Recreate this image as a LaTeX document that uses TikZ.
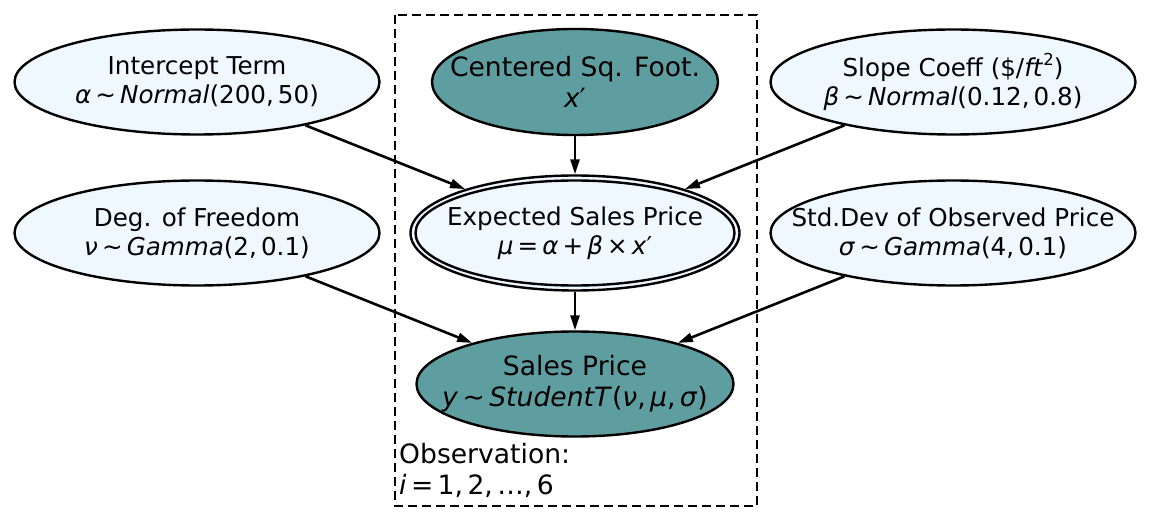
\documentclass[tikz,border=0pt]{standalone}
\usepackage{fontspec}
\setmainfont{DejaVu Sans}
\usetikzlibrary{shapes.geometric,arrows.meta}
\definecolor{lightfill}{HTML}{F0F8FF}
\definecolor{tealfill}{HTML}{5F9EA0}
\newcommand{\mi}[1]{\textit{#1}}
\begin{document}
\begin{tikzpicture}[x=1pt,y=-1pt,
  ell/.style={ellipse,draw=black,line width=2.4pt,inner sep=0pt},
  prior/.style={ell,fill=lightfill,minimum width=365pt,minimum height=105pt},
  obs/.style={ell,fill=tealfill},
  txt/.style={align=center,inner sep=0pt,font=\fontsize{24.6}{29}\selectfont},
  btxt/.style={align=center,inner sep=0pt,font=\fontsize{26.6}{31}\selectfont},
  edge/.style={line width=2.6pt,-{Triangle[length=15pt,width=9pt]}}
]
\useasboundingbox (0,0) rectangle (1151,521);
\fill[white] (0,0) rectangle (1151,521);
% plate
\draw[line width=2.4pt,dash pattern=on 9pt off 5pt] (395,15) rectangle (757,506);
\node[btxt,align=left,anchor=west] (platelbl) at (399,470) {Observation:\\\mi{i}\,=\,1,\,2,\,…,\,6};
% nodes
\node[prior] (icpt) at (197,82) {};
\node[txt] (icptt) at (197,82) {Intercept Term\\\mi{α}\,∼\,\mi{Normal}(200,\,50)};
\node[obs,minimum width=286pt,minimum height=106pt] (sqft) at (575,82) {};
\node[btxt] (sqftt) at (575,82) {Centered Sq. Foot.\\\mi{x}′};
\node[prior] (slope) at (953,82) {};
\node[txt] (slopet) at (953,82) {Slope Coeff (\$/\mi{ft}\raisebox{0.45em}{\fontsize{16.5}{16.5}\selectfont 2})\\\mi{β}\,∼\,\mi{Normal}(0.12,\,0.8)};
\node[prior] (nu) at (197,233) {};
\node[txt] (nut) at (197,233) {Deg. of Freedom\\\mi{ν}\,∼\,\mi{Gamma}(2,\,0.1)};
\node[ell,fill=lightfill,minimum width=329pt,minimum height=115pt] (mu) at (575,233) {};
\draw[line width=2.4pt] (mu.center) ellipse [x radius=159.5pt, y radius=52.5pt];
\node[txt] (mut) at (575,233) {Expected Sales Price\\\mi{μ}\,=\,\mi{α}\,+\,\mi{β}\,×\,\mi{x}′};
\node[prior] (sigma) at (953,233) {};
\node[txt] (sigmat) at (953,233) {Std.Dev of Observed Price\\\mi{σ}\,∼\,\mi{Gamma}(4,\,0.1)};
\node[obs,minimum width=317pt,minimum height=105pt] (y) at (575,384) {};
\node[btxt] (yt) at (575,384) {Sales Price\\\mi{y}\,∼\,\mi{StudentT}(\mi{ν},\,\mi{μ},\,\mi{σ})};
% edges
\draw[edge] (icpt) -- (mu);
\draw[edge] (sqft) -- (mu);
\draw[edge] (slope) -- (mu);
\draw[edge] (nu) -- (y);
\draw[edge] (mu) -- (y);
\draw[edge] (sigma) -- (y);
\end{tikzpicture}
\end{document}
